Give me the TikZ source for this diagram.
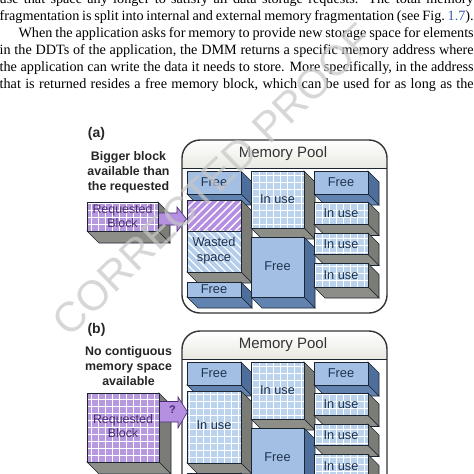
\documentclass[tikz,border=0pt]{standalone}
\usepackage{fontspec}
\setmainfont{Liberation Serif}
\newfontfamily\dsans{Liberation Sans}
\usetikzlibrary{patterns.meta}
\definecolor{freeF}{HTML}{A3C0E4}
\definecolor{freeR}{HTML}{4E6F9C}
\definecolor{freeB}{HTML}{6283B0}
\definecolor{useF}{HTML}{BCD3EE}
\definecolor{greyR}{HTML}{7C7C76}
\definecolor{greyB}{HTML}{8E8E88}
\definecolor{reqF}{HTML}{B699DE}
\definecolor{purpH}{HTML}{B48EE0}
\definecolor{wasteF}{HTML}{B3CDEB}
\definecolor{arrP}{HTML}{B58FE0}
\definecolor{edge}{HTML}{1C2633}
\definecolor{txtB}{HTML}{1E3350}
\definecolor{txtP}{HTML}{4A2C70}
\definecolor{hdr}{HTML}{E9E9E2}
\definecolor{figblue}{HTML}{3A5BB0}
\newcommand\dpth{11}
\newcommand\depthfaces[7]{%
  \filldraw[fill=#5,edgeline] (#3,-#2) -- (#3+#7,-#2-#7) -- (#3+#7,-#4-#7) -- (#3,-#4) -- cycle;
  \filldraw[fill=#6,edgeline] (#1,-#4) -- (#3,-#4) -- (#3+#7,-#4-#7) -- (#1+#7,-#4-#7) -- cycle;}
\newcommand\gridfront[5]{%
  \begin{scope}
    \clip (#1,-#2) rectangle (#3,-#4);
    \fill[#5] (#1,-#2) rectangle (#3,-#4);
    \draw[white,line width=1pt,step=7pt] (#1-7,-#4-7) grid (#3+7,-#2+7);
  \end{scope}
  \draw[edgeline] (#1,-#2) rectangle (#3,-#4);}
\newcommand\freeblk[4]{\depthfaces{#1}{#2}{#3}{#4}{freeR}{freeB}{\dpth}%
  \filldraw[fill=freeF,edgeline] (#1,-#2) rectangle (#3,-#4);}
\newcommand\useblk[4]{\depthfaces{#1}{#2}{#3}{#4}{greyR}{greyB}{\dpth}%
  \gridfront{#1}{#2}{#3}{#4}{useF}}
\newcommand\poolpanel[2]{%
  \fill[white,rounded corners=18pt] (182,-140) rectangle (387,-313);
  \begin{scope}
    \clip[rounded corners=18pt] (182,-140) rectangle (387,-313);
    \shade[top color=white,bottom color=hdr] (182,-140) rectangle (387,-168);
  \end{scope}
  \draw[edge,line width=0.9pt] (182,-168) -- (387,-168);
  \node[pooltxt] (#1pool) at (283,-153.5) {Memory Pool};
  % column 1
  \freeblk{187}{171}{241}{194}
  #2
  \freeblk{187}{282}{241}{297}
  % column 2
  \useblk{251}{171}{304}{228}
  \freeblk{251}{237}{304}{297}
  % column 3
  \freeblk{314}{171}{368}{194}
  \useblk{314}{202}{368}{224.5}
  \useblk{314}{233}{368}{254.5}
  \useblk{314}{263.5}{368}{287}
  \draw[black!80,line width=1.4pt,rounded corners=18pt] (182,-140) rectangle (387,-313);
  \node[btxt] (#1fA) at (214,-182.5) {Free};
  \node[btxt] (#1fA3) at (214,-289.5) {Free};
  \node[btxt] (#1uB) at (277.5,-199) {In use};
  \node[btxt] (#1fB) at (277.5,-266) {Free};
  \node[btxt] (#1fC) at (341,-182.5) {Free};
  \node[btxt] (#1uC2) at (341,-213.5) {In use};
  \node[btxt] (#1uC3) at (341,-244) {In use};
  \node[btxt] (#1uC4) at (341,-275) {In use};}
\tikzset{
  edgeline/.style={draw=edge,line width=0.6pt},
  btxt/.style={font=\dsans\fontsize{12.8}{15}\selectfont,text=txtB,align=center,inner sep=0pt},
  ptxt/.style={font=\dsans\fontsize{12.4}{14}\selectfont,text=txtP,align=center,inner sep=0pt},
  htxt/.style={font=\dsans\bfseries\fontsize{12.4}{15}\selectfont,text=black!85,align=center,inner sep=0pt},
  lblab/.style={font=\dsans\bfseries\fontsize{14}{16}\selectfont,text=black!85,inner sep=0pt},
  pooltxt/.style={font=\dsans\fontsize{15}{18}\selectfont,text=black!80,inner sep=0pt},
  bodytxt/.style={font=\fontsize{14.2}{17}\selectfont,inner sep=0pt,anchor=base west},
  arrowshape/.style={fill=arrP,draw=txtP,line width=0.6pt},
}
\begin{document}
\begin{tikzpicture}[x=1pt,y=1pt]
\useasboundingbox (0,0) rectangle (474,-474);
\fill[white] (0,0) rectangle (474,-474);
% body text
\node[bodytxt] (l1) at (-0.5,-3.5) {\makebox[474pt][s]{use that space any longer to satisfy all data storage requests. The total memory}};
\node[bodytxt] (l2) at (-0.5,-20.5) {\makebox[474pt][s]{fragmentation is split into internal and external memory fragmentation (see Fig.~\textcolor{figblue}{1.7}).}};
\node[bodytxt] (l3) at (-0.5,-37.5) {\makebox[474pt][s]{\hspace*{18.8pt}When the application asks for memory to provide new storage space for elements}};
\node[bodytxt] (l4) at (-0.5,-54.5) {\makebox[474pt][s]{in the DDTs of the application, the DMM returns a specific memory address where}};
\node[bodytxt] (l5) at (-0.5,-71.5) {\makebox[474pt][s]{the application can write the data it needs to store. More specifically, in the address}};
\node[bodytxt] (l6) at (-0.5,-88.5) {\makebox[474pt][s]{that is returned resides a free memory block, which can be used for as long as the}};
% ---------- panel (a)
\node[lblab] (la) at (96.5,-134) {(a)};
\node[htxt] (adesc) at (128.5,-172) {Bigger block\\available than\\the requested};
\poolpanel{a}{%
  \depthfaces{187}{200}{241}{272}{greyR}{greyB}{\dpth}
  \fill[purpH] (187,-200) rectangle (241,-230.7);
  \fill[pattern={Lines[angle=45,distance=5.5pt,line width=1.4pt]},pattern color=white] (187,-200) rectangle (241,-230.7);
  \fill[wasteF] (187,-230.7) rectangle (241,-272);
  \fill[pattern={Lines[angle=-45,distance=5.5pt,line width=1.2pt]},pattern color=white] (187,-230.7) rectangle (241,-272);
  \draw[edgeline] (187,-200) rectangle (241,-272);
  \draw[edge,line width=0.3pt] (187,-230.7) -- (241,-230.7);
  \node[btxt] (awaste) at (214,-251) {Wasted\\space};}
\depthfaces{87}{202}{158}{231}{greyR}{greyB}{12}
\filldraw[arrowshape] (155,-213) -- (177,-213) -- (177,-207) -- (186.5,-219) -- (177,-231.5) -- (177,-225) -- (155,-225) -- cycle;
\gridfront{87}{202}{158}{231}{reqF}
\node[ptxt] (areq) at (122.5,-216) {Requested\\Block};
% ---------- panel (b)
\node[lblab] (lb) at (96.5,-330) {(b)};
\node[htxt] (bdesc) at (128.5,-365.7) {No contiguous\\memory space\\available};
\begin{scope}[yshift=-191pt]
\poolpanel{b}{%
  \useblk{187}{200}{241}{272}
  \node[btxt] (buA2) at (214,-234) {In use};}
\end{scope}
\depthfaces{87}{393}{159}{462}{greyR}{greyB}{12}
\filldraw[arrowshape] (156,-401.5) -- (178,-401.5) -- (178,-397) -- (187.5,-412) -- (178,-428) -- (178,-422) -- (156,-422) -- cycle;
\gridfront{87}{393}{159}{462}{reqF}
\node[ptxt] (breq) at (123,-426) {Requested\\Block};
\node[font=\dsans\bfseries\fontsize{11}{12}\selectfont,text=txtP,inner sep=0pt] (bq) at (172.5,-410) {?};
% watermark
\node[rotate=44,text=black!22,text opacity=0.7,inner sep=0pt,font=\dsans\fontsize{42}{42}\selectfont] (wm) at (213,-180) {CORRECTED PROOF};
\end{tikzpicture}
\end{document}
